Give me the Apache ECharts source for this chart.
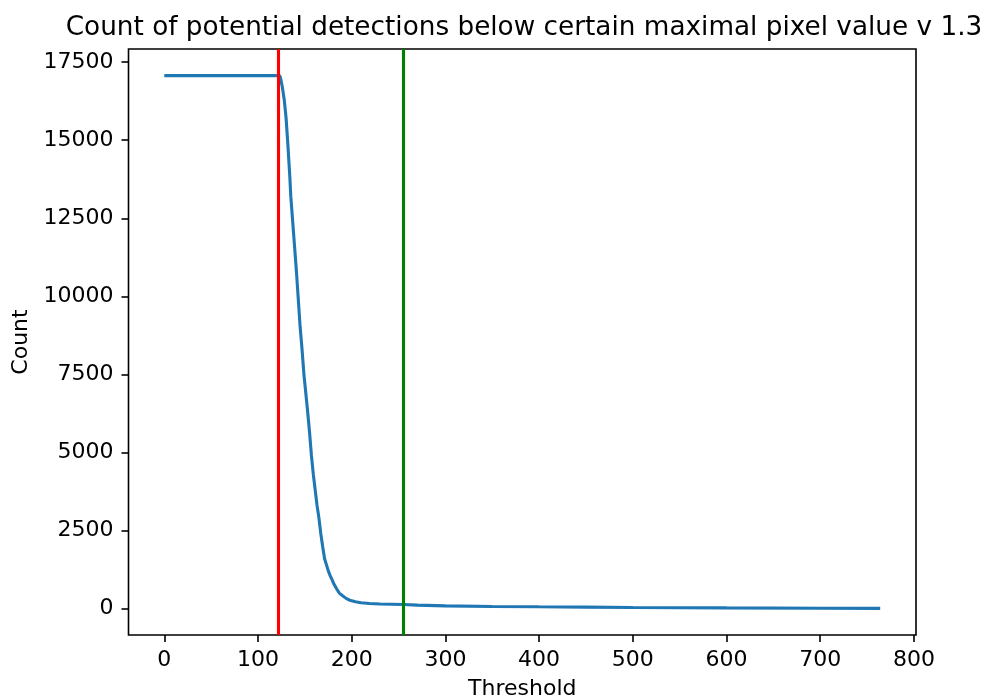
<!DOCTYPE html>
<html>
<head>
<meta charset="utf-8">
<script src="https://cdn.jsdelivr.net/npm/echarts@6/dist/echarts.min.js"></script>
<style>
html,body{margin:0;padding:0;background:#fff;}
#chart{width:986px;height:699px;}
</style>
</head>
<body>
<div id="chart"></div>
<script>
const titleText = 'Count of potential detections below certain maximal pixel value v 1.3';
const thresholds = [0,123,124,126,128,130,132,134,135,137,139,141,143,145,147,149,151,153,155,157,159,161,163,165,167,169,171,173,175,177,179,181,184,187,190,194,198,204,210,219,230,255,270,300,350,400,450,500,600,700,764];
const counts = [17070,17070,17000,16700,16300,15700,14800,13800,13200,12400,11600,10800,9900,9000,8300,7500,6900,6300,5650,4900,4300,3800,3300,2900,2400,1980,1600,1400,1200,1050,920,780,620,480,410,320,260,210,180,158,140,125,105,80,62,50,40,30,15,5,0];
const redLineX = 122;
const greenLineX = 255;
const xTicks = [0,100,200,300,400,500,600,700,800];
const yTicks = [0,2500,5000,7500,10000,12500,15000,17500];

const font = 'DejaVu Sans';
const chart = echarts.init(document.getElementById('chart'), null, {renderer:'canvas'});
const seriesData = thresholds.map((t,i)=>[t, counts[i]]);
const plain = v => String(v);

chart.setOption({
  animation:false,
  backgroundColor:'#ffffff',
  title:{
    text:titleText,
    left:519, top:10, textAlign:'center',
    textStyle:{fontFamily:font,fontSize:26.3,fontWeight:'normal',color:'#000'}
  },
  grid:{left:128.5,right:70,top:49,bottom:64,show:true,borderColor:'#000',borderWidth:1.6,backgroundColor:'transparent',containLabel:false,outerBoundsMode:'none'},
  xAxis:{
    type:'value', min:-38.2, max:802.2,
    name:'Threshold', nameLocation:'middle', nameGap:43,
    nameTextStyle:{fontFamily:font,fontSize:22,color:'#000'},
    axisLine:{show:false,onZero:false},
    splitLine:{show:false},
    axisTick:{show:true,length:7,lineStyle:{color:'#000',width:1.6},customValues:xTicks},
    axisLabel:{fontFamily:font,fontSize:22,color:'#000',margin:14,customValues:xTicks,formatter:plain}
  },
  yAxis:{
    type:'value', min:-853.5, max:17923.5,
    name:'Count', nameLocation:'middle', nameGap:85,
    nameTextStyle:{fontFamily:font,fontSize:22,color:'#000'},
    axisLine:{show:false,onZero:false},
    splitLine:{show:false},
    axisTick:{show:true,length:7,lineStyle:{color:'#000',width:1.6},customValues:yTicks},
    axisLabel:{fontFamily:font,fontSize:22,color:'#000',margin:15,customValues:yTicks,formatter:plain}
  },
  series:[{
    type:'line',
    data:seriesData,
    showSymbol:false,
    symbol:'none',
    lineStyle:{color:'#1f77b4',width:3.1},
    markLine:{
      silent:true,
      symbol:['none','none'],
      label:{show:false},
      lineStyle:{type:'solid',width:3.1},
      data:[
        {xAxis:redLineX,lineStyle:{color:'#ff0000',type:'solid',width:3.1}},
        {xAxis:greenLineX,lineStyle:{color:'#008000',type:'solid',width:3.1}}
      ]
    }
  }]
});
</script>
</body>
</html>
